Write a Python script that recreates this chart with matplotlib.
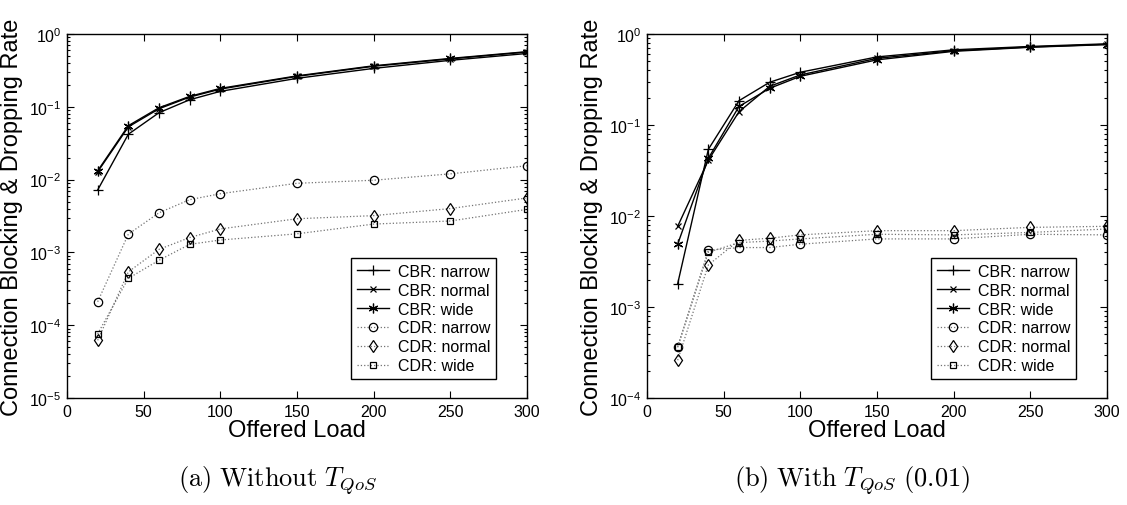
import numpy as np
import matplotlib
matplotlib.use("Agg")
import matplotlib.pyplot as plt
from matplotlib.ticker import LogLocator, NullFormatter

plt.rcParams['font.family'] = ['Liberation Sans', 'DejaVu Sans']
plt.rcParams['mathtext.fontset'] = 'custom'
plt.rcParams['mathtext.rm'] = 'Liberation Sans'
plt.rcParams['mathtext.it'] = 'Liberation Sans:italic'

# offered load values
load = [20, 40, 60, 80, 100, 150, 200, 250, 300]

# (a) without T_QoS
a_cbr_narrow = [0.0072, 0.042, 0.083, 0.125, 0.163, 0.246, 0.337, 0.435, 0.54]
a_cbr_normal = [0.0128, 0.053, 0.094, 0.136, 0.175, 0.262, 0.36, 0.455, 0.565]
a_cbr_wide = [0.0132, 0.055, 0.097, 0.139, 0.179, 0.266, 0.366, 0.462, 0.572]
a_cdr_narrow = [2.1e-4, 1.78e-3, 3.5e-3, 5.3e-3, 6.4e-3, 8.9e-3, 9.8e-3, 0.012, 0.0155]
a_cdr_normal = [6.2e-5, 5.4e-4, 1.1e-3, 1.6e-3, 2.1e-3, 2.9e-3, 3.2e-3, 4.0e-3, 5.6e-3]
a_cdr_wide = [7.6e-5, 4.4e-4, 7.8e-4, 1.29e-3, 1.48e-3, 1.8e-3, 2.45e-3, 2.7e-3, 3.9e-3]

# (b) with T_QoS (0.01)
b_cbr_narrow = [1.8e-3, 0.054, 0.185, 0.295, 0.38, 0.56, 0.67, 0.73, 0.78]
b_cbr_normal = [7.7e-3, 0.041, 0.14, 0.266, 0.355, 0.54, 0.655, 0.72, 0.77]
b_cbr_wide = [4.9e-3, 0.043, 0.16, 0.253, 0.343, 0.52, 0.645, 0.715, 0.765]
b_cdr_narrow = [3.66e-4, 4.2e-3, 4.5e-3, 4.5e-3, 4.9e-3, 5.6e-3, 5.6e-3, 6.3e-3, 6.2e-3]
b_cdr_normal = [2.6e-4, 2.9e-3, 5.4e-3, 5.7e-3, 6.2e-3, 6.9e-3, 6.9e-3, 7.5e-3, 7.7e-3]
b_cdr_wide = [3.6e-4, 4.0e-3, 5.1e-3, 5.3e-3, 5.6e-3, 6.3e-3, 6.2e-3, 6.6e-3, 7.2e-3]

labels = ['CBR: narrow', 'CBR: normal', 'CBR: wide',
          'CDR: narrow', 'CDR: normal', 'CDR: wide']
xticks = [0, 50, 100, 150, 200, 250, 300]

asterisk = (6, 2, 0)
styles = [
    dict(ls='-', marker='+', ms=7, color='black', lw=1.0),
    dict(ls='-', marker='x', ms=4, color='black', lw=1.0),
    dict(ls='-', marker=asterisk, ms=7, color='black', lw=1.0),
    dict(ls=':', marker='o', ms=6, color='0.45', mec='black', mfc='none', lw=0.9),
    dict(ls=':', marker='d', ms=6.5, color='0.45', mec='black', mfc='none', lw=0.9),
    dict(ls=':', marker='s', ms=5, color='0.45', mec='black', mfc='none', lw=0.9),
]

fig = plt.figure(figsize=(11.27, 5.06), dpi=100)
ax_a = fig.add_axes([67 / 1127, 107 / 506, 460 / 1127, 364 / 506])
ax_b = fig.add_axes([647 / 1127, 107 / 506, 460 / 1127, 364 / 506])

panels = [
    (ax_a, [a_cbr_narrow, a_cbr_normal, a_cbr_wide, a_cdr_narrow, a_cdr_normal, a_cdr_wide], 1e-5),
    (ax_b, [b_cbr_narrow, b_cbr_normal, b_cbr_wide, b_cdr_narrow, b_cdr_normal, b_cdr_wide], 1e-4),
]

for ax, series, ymin in panels:
    for vals, lab, st in zip(series, labels, styles):
        ax.plot(load, vals, label=lab, mew=0.9, **st)
    ax.set_yscale('log')
    ax.set_xlim(0, 300)
    ax.set_ylim(ymin, 1)
    ax.set_xticks(xticks)
    ax.yaxis.set_minor_locator(LogLocator(base=10, subs=np.arange(2, 10)))
    ax.yaxis.set_minor_formatter(NullFormatter())
    ax.tick_params(which='both', direction='in', top=True, right=True,
                   labelsize=11.5, width=0.8)
    ax.tick_params(which='major', length=5, pad=4)
    ax.tick_params(which='minor', length=2.5)
    for sp in ax.spines.values():
        sp.set_linewidth(1.0)
    ax.set_xlabel('Offered Load', fontsize=17, labelpad=0)
    ax.set_ylabel('Connection Blocking & Dropping Rate', fontsize=17)
    ax.yaxis.set_label_coords(-0.095, 0.5)
    leg = ax.legend(loc='lower right', bbox_to_anchor=(0.933, 0.052),
                    borderaxespad=0, fontsize=11.5, fancybox=False,
                    edgecolor='black', framealpha=1, handlelength=2.0,
                    handletextpad=0.6, labelspacing=0.25, borderpad=0.35)
    leg.get_frame().set_linewidth(1.0)

fig.text(278 / 1127, 1 - 481 / 506, r'$\mathrm{(a)\ Without}\ T_{QoS}$',
         ha='center', va='center', fontsize=19, math_fontfamily='cm')
fig.text(852 / 1127, 1 - 481 / 506, r'$\mathrm{(b)\ With}\ T_{QoS}\ \mathrm{(0.01)}$',
         ha='center', va='center', fontsize=19, math_fontfamily='cm')

fig.savefig('out.png', dpi=100)
